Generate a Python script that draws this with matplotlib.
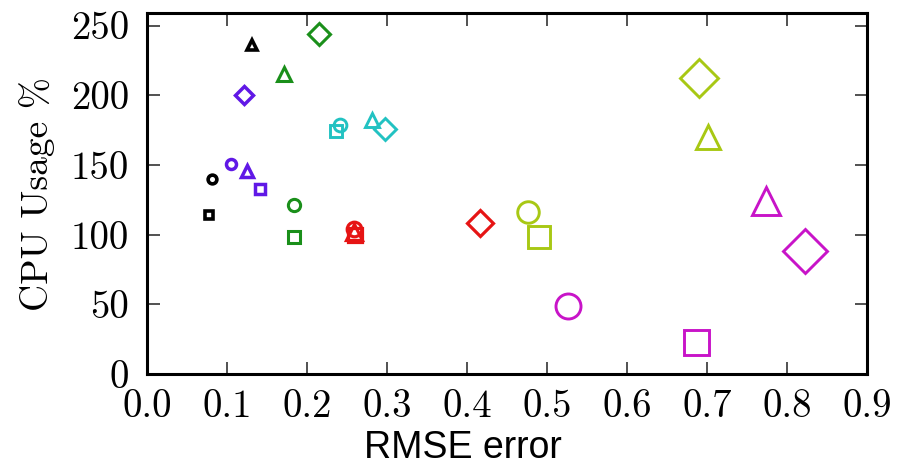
import matplotlib
matplotlib.use("Agg")
import matplotlib.pyplot as plt

# RMSE error / CPU usage per configuration, grouped by colour; markers
# distinguish circle / square / triangle / diamond variants.
markers = ["o", "s", "^", "D"]

black_rmse = [0.081, 0.078, 0.131]
black_cpu = [140, 114, 236]
black_mk = ["o", "s", "^"]

purple_rmse = [0.105, 0.141, 0.125, 0.121]
purple_cpu = [151, 133, 146, 200]

green_rmse = [0.184, 0.184, 0.171, 0.215]
green_cpu = [121, 98, 215, 244]

cyan_rmse = [0.241, 0.236, 0.281, 0.298]
cyan_cpu = [179, 174, 182, 176]

red_rmse = [0.259, 0.260, 0.259, 0.416]
red_cpu = [104, 100, 102, 108]

lime_rmse = [0.476, 0.490, 0.701, 0.690]
lime_cpu = [116, 98, 170, 212]

magenta_rmse = [0.526, 0.686, 0.774, 0.823]
magenta_cpu = [49, 23, 124, 88]

xticks = [0.0, 0.1, 0.2, 0.3, 0.4, 0.5, 0.6, 0.7, 0.8, 0.9]
yticks = [0, 50, 100, 150, 200, 250]

series = [
    (black_rmse, black_cpu, black_mk, "#000000", 6.3, 2.6),
    (purple_rmse, purple_cpu, markers, "#6018e6", 7.2, 2.5),
    (green_rmse, green_cpu, markers, "#1a8f1a", 8.8, 2.2),
    (cyan_rmse, cyan_cpu, markers, "#22c2c2", 9.2, 2.1),
    (red_rmse, red_cpu, markers, "#e61414", 10.5, 2.3),
    (lime_rmse, lime_cpu, markers, "#a8c814", 15.5, 2.1),
    (magenta_rmse, magenta_cpu, markers, "#c814c8", 18.0, 2.1),
]
# relative marker scale so that shapes of one colour look equally large
shape_scale = {"o": 1.0, "s": 1.0, "^": 1.12, "D": 1.22}

fig = plt.figure(figsize=(8.97, 4.67), dpi=100)
ax = fig.add_axes([0.1639, 0.1991, 0.8027, 0.7731])

for xs, ys, mks, color, size, lw in series:
    for x, y, m in zip(xs, ys, mks):
        ax.plot([x], [y], linestyle="none", marker=m,
                markersize=size * shape_scale[m],
                markerfacecolor="none", markeredgecolor=color,
                markeredgewidth=lw)

ax.set_xlim(0.0, 0.9)
ax.set_ylim(0, 259)
ax.set_xticks(xticks)
ax.set_yticks(yticks)
ax.set_xticklabels([f"{v:.1f}" for v in xticks], fontname="cmr10", fontsize=28)
ax.set_yticklabels([str(v) for v in yticks], fontname="cmr10", fontsize=28)

ax.tick_params(direction="in", length=9, width=1.2, color="#333333",
               top=True, right=True)
ax.tick_params(axis="y", pad=13)
ax.tick_params(axis="x", pad=11)
for sp in ax.spines.values():
    sp.set_linewidth(2.2)

ax.set_ylabel("CPU Usage %", fontname="cmr10", fontsize=27)
ax.yaxis.set_label_coords(-0.128, 0.5)
ax.set_xlabel("RMSE error", fontname="Liberation Sans", fontsize=27)
ax.xaxis.set_label_coords(0.439, -0.155)

fig.savefig("out.png", dpi=100)
